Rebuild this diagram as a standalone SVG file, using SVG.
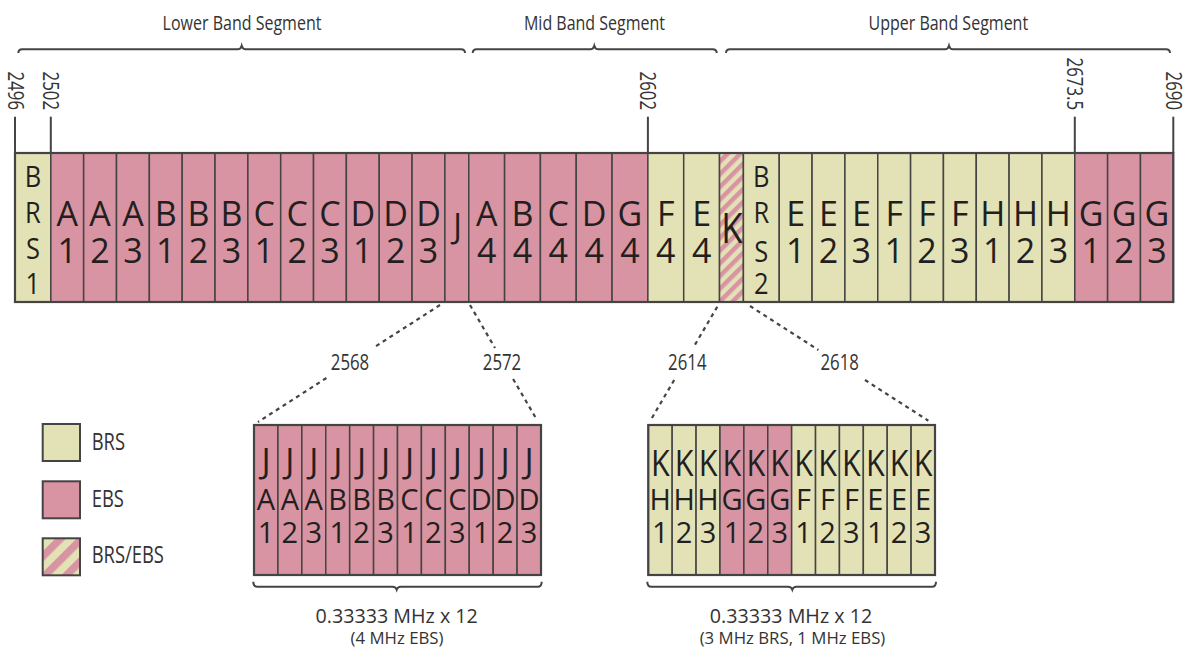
<svg xmlns="http://www.w3.org/2000/svg" width="1187" height="656" viewBox="0 0 1187 656">
  <defs>
    <pattern id="stripes" width="9" height="9" patternUnits="userSpaceOnUse" patternTransform="rotate(45)">
      <rect width="9" height="9" fill="#E3E2B6"/>
      <rect width="4.5" height="9" fill="#D894A2"/>
    </pattern>
    <pattern id="stripesLg" width="15" height="15" patternUnits="userSpaceOnUse" patternTransform="rotate(45)">
      <rect width="15" height="15" fill="#E3E2B6"/>
      <rect width="7.5" height="15" fill="#D894A2"/>
    </pattern>
  </defs>
  <style>
    .brs { fill: #E3E2B6; stroke: #444; stroke-width: 1.5; }
    .ebs { fill: #D894A2; stroke: #444; stroke-width: 1.5; }
    .mix { fill: url(#stripes); stroke: #444; stroke-width: 1.5; }
    .frame { fill: none; stroke: #444; stroke-width: 2.2; }
    .tick { stroke: #444; stroke-width: 2; fill: none; }
    .brace { stroke: #444; stroke-width: 2; fill: none; }
    .dots { stroke: #444; stroke-width: 2.2; fill: none; stroke-dasharray: 4 4; }
    text { font-family: "Open Sans", "Noto Sans", "Liberation Sans", sans-serif; fill: #231f20; }
    .big { font-size: 34px; text-anchor: middle; }
    .stack { font-size: 30px; text-anchor: middle; }
    .sub { font-size: 29px; text-anchor: middle; }
    .subj { font-size: 34px; text-anchor: middle; }
    .subk { font-size: 36px; text-anchor: middle; }
    .lbl { font-size: 20px; text-anchor: middle; fill: #333; }
    .freq { font-size: 21px; fill: #333; }
    .leg { font-size: 23px; fill: #333; }
    .note { font-size: 19.7px; text-anchor: middle; fill: #333; }
    .note2 { font-size: 16.8px; text-anchor: middle; fill: #333; }
  </style>
  <rect width="1187" height="656" fill="#fff"/>

  <!-- segment braces and titles -->
  <g id="segments">
    <path class="brace" d="M18.3,53 Q18.3,49.3 22.3,49.3 L237.7,49.3 Q240.7,49.3 241.7,45.7 Q242.7,49.3 245.7,49.3 L461,49.3 Q465,49.3 465,53"/>
    <path class="brace" d="M472.7,53 Q472.7,49.3 476.7,49.3 L590.3,49.3 Q593.3,49.3 594.3,45.7 Q595.3,49.3 598.3,49.3 L712.7,49.3 Q716.7,49.3 716.7,53"/>
    <path class="brace" d="M726,53 Q726,49.3 730,49.3 L945,49.3 Q948,49.3 949,45.7 Q950,49.3 953,49.3 L1166,49.3 Q1170,49.3 1170,53"/>
    <text class="lbl" transform="translate(242,30) scale(0.8,1)">Lower Band Segment</text>
    <text class="lbl" transform="translate(594.5,30) scale(0.8,1)">Mid Band Segment</text>
    <text class="lbl" transform="translate(948.3,30) scale(0.8,1)">Upper Band Segment</text>
  </g>

  <!-- frequency marks above the band -->
  <g id="freq-marks">
    <line class="tick" x1="15" y1="116.7" x2="15" y2="153"/>
    <line class="tick" x1="50.8" y1="116.7" x2="50.8" y2="153"/>
    <line class="tick" x1="647.9" y1="116.7" x2="647.9" y2="153"/>
    <line class="tick" x1="1074.8" y1="116.7" x2="1074.8" y2="153"/>
    <line class="tick" x1="1173.3" y1="116.7" x2="1173.3" y2="153"/>
    <text class="freq" text-anchor="end" transform="translate(7.5,110) rotate(90) scale(0.8,1)">2496</text>
    <text class="freq" text-anchor="end" transform="translate(43.3,110) rotate(90) scale(0.8,1)">2502</text>
    <text class="freq" text-anchor="end" transform="translate(640.4,110) rotate(90) scale(0.8,1)">2602</text>
    <text class="freq" text-anchor="end" transform="translate(1067.3,110) rotate(90) scale(0.8,1)">2673.5</text>
    <text class="freq" text-anchor="end" transform="translate(1165.8,110) rotate(90) scale(0.8,1)">2690</text>
  </g>

  <!-- main band channels -->
  <g id="band">
    <g id="ch-BRS1"><rect class="brs" x="15" y="153" width="35.82" height="149"/>
      <text class="stack" transform="translate(32.9,186.7) scale(0.85,1)">B</text>
      <text class="stack" transform="translate(32.9,222.7) scale(0.85,1)">R</text>
      <text class="stack" transform="translate(32.9,258.7) scale(0.85,1)">S</text>
      <text class="stack" transform="translate(32.9,293.5) scale(0.85,1)">1</text></g>
    <g id="ch-A1"><rect class="ebs" x="50.82" y="153" width="32.84" height="149"/><text class="big" x="67.24" y="226">A</text><text class="big" x="67.24" y="262.7">1</text></g>
    <g id="ch-A2"><rect class="ebs" x="83.66" y="153" width="32.84" height="149"/><text class="big" x="100.08" y="226">A</text><text class="big" x="100.08" y="262.7">2</text></g>
    <g id="ch-A3"><rect class="ebs" x="116.5" y="153" width="32.84" height="149"/><text class="big" x="132.92" y="226">A</text><text class="big" x="132.92" y="262.7">3</text></g>
    <g id="ch-B1"><rect class="ebs" x="149.34" y="153" width="32.84" height="149"/><text class="big" x="165.76" y="226">B</text><text class="big" x="165.76" y="262.7">1</text></g>
    <g id="ch-B2"><rect class="ebs" x="182.18" y="153" width="32.84" height="149"/><text class="big" x="198.6" y="226">B</text><text class="big" x="198.6" y="262.7">2</text></g>
    <g id="ch-B3"><rect class="ebs" x="215.02" y="153" width="32.84" height="149"/><text class="big" x="231.44" y="226">B</text><text class="big" x="231.44" y="262.7">3</text></g>
    <g id="ch-C1"><rect class="ebs" x="247.86" y="153" width="32.84" height="149"/><text class="big" x="264.28" y="226">C</text><text class="big" x="264.28" y="262.7">1</text></g>
    <g id="ch-C2"><rect class="ebs" x="280.69" y="153" width="32.84" height="149"/><text class="big" x="297.11" y="226">C</text><text class="big" x="297.11" y="262.7">2</text></g>
    <g id="ch-C3"><rect class="ebs" x="313.53" y="153" width="32.84" height="149"/><text class="big" x="329.95" y="226">C</text><text class="big" x="329.95" y="262.7">3</text></g>
    <g id="ch-D1"><rect class="ebs" x="346.37" y="153" width="32.84" height="149"/><text class="big" x="362.79" y="226">D</text><text class="big" x="362.79" y="262.7">1</text></g>
    <g id="ch-D2"><rect class="ebs" x="379.21" y="153" width="32.84" height="149"/><text class="big" x="395.63" y="226">D</text><text class="big" x="395.63" y="262.7">2</text></g>
    <g id="ch-D3"><rect class="ebs" x="412.05" y="153" width="32.84" height="149"/><text class="big" x="428.47" y="226">D</text><text class="big" x="428.47" y="262.7">3</text></g>
    <g id="ch-J"><rect class="ebs" x="444.88" y="153" width="23.89" height="149"/><text class="big" transform="translate(457.5,237.5) scale(0.95,1)">J</text></g>
    <g id="ch-A4"><rect class="ebs" x="468.77" y="153" width="35.82" height="149"/><text class="big" x="486.68" y="226">A</text><text class="big" x="486.68" y="262.7">4</text></g>
    <g id="ch-B4"><rect class="ebs" x="504.59" y="153" width="35.82" height="149"/><text class="big" x="522.5" y="226">B</text><text class="big" x="522.5" y="262.7">4</text></g>
    <g id="ch-C4"><rect class="ebs" x="540.41" y="153" width="35.83" height="149"/><text class="big" x="558.33" y="226">C</text><text class="big" x="558.33" y="262.7">4</text></g>
    <g id="ch-D4"><rect class="ebs" x="576.24" y="153" width="35.82" height="149"/><text class="big" x="594.15" y="226">D</text><text class="big" x="594.15" y="262.7">4</text></g>
    <g id="ch-G4"><rect class="ebs" x="612.06" y="153" width="35.82" height="149"/><text class="big" x="629.97" y="226">G</text><text class="big" x="629.97" y="262.7">4</text></g>
    <g id="ch-F4"><rect class="brs" x="647.88" y="153" width="35.83" height="149"/><text class="big" x="665.8" y="226">F</text><text class="big" x="665.8" y="262.7">4</text></g>
    <g id="ch-E4"><rect class="brs" x="683.71" y="153" width="35.82" height="149"/><text class="big" x="701.62" y="226">E</text><text class="big" x="701.62" y="262.7">4</text></g>
    <g id="ch-K"><rect class="mix" x="719.53" y="153" width="23.88" height="149"/><text class="big" style="font-size:42px" transform="translate(731.8,243.3) scale(0.83,1)">K</text></g>
    <g id="ch-BRS2"><rect class="brs" x="743.41" y="153" width="35.83" height="149"/>
      <text class="stack" transform="translate(761.3,186.7) scale(0.85,1)">B</text>
      <text class="stack" transform="translate(761.3,223) scale(0.85,1)">R</text>
      <text class="stack" transform="translate(761.3,262) scale(0.85,1)">S</text>
      <text class="stack" transform="translate(761.3,293.5) scale(0.85,1)">2</text></g>
    <g id="ch-E1"><rect class="brs" x="779.24" y="153" width="32.83" height="149"/><text class="big" x="795.66" y="226">E</text><text class="big" x="795.66" y="262.7">1</text></g>
    <g id="ch-E2"><rect class="brs" x="812.07" y="153" width="32.84" height="149"/><text class="big" x="828.49" y="226">E</text><text class="big" x="828.49" y="262.7">2</text></g>
    <g id="ch-E3"><rect class="brs" x="844.91" y="153" width="32.84" height="149"/><text class="big" x="861.33" y="226">E</text><text class="big" x="861.33" y="262.7">3</text></g>
    <g id="ch-F1"><rect class="brs" x="877.75" y="153" width="32.84" height="149"/><text class="big" x="894.17" y="226">F</text><text class="big" x="894.17" y="262.7">1</text></g>
    <g id="ch-F2"><rect class="brs" x="910.59" y="153" width="32.84" height="149"/><text class="big" x="927.01" y="226">F</text><text class="big" x="927.01" y="262.7">2</text></g>
    <g id="ch-F3"><rect class="brs" x="943.43" y="153" width="32.84" height="149"/><text class="big" x="959.85" y="226">F</text><text class="big" x="959.85" y="262.7">3</text></g>
    <g id="ch-H1"><rect class="brs" x="976.27" y="153" width="32.83" height="149"/><text class="big" x="992.69" y="226">H</text><text class="big" x="992.69" y="262.7">1</text></g>
    <g id="ch-H2"><rect class="brs" x="1009.1" y="153" width="32.84" height="149"/><text class="big" x="1025.52" y="226">H</text><text class="big" x="1025.52" y="262.7">2</text></g>
    <g id="ch-H3"><rect class="brs" x="1041.94" y="153" width="32.84" height="149"/><text class="big" x="1058.36" y="226">H</text><text class="big" x="1058.36" y="262.7">3</text></g>
    <g id="ch-G1"><rect class="ebs" x="1074.78" y="153" width="32.84" height="149"/><text class="big" x="1091.2" y="226">G</text><text class="big" x="1091.2" y="262.7">1</text></g>
    <g id="ch-G2"><rect class="ebs" x="1107.62" y="153" width="32.84" height="149"/><text class="big" x="1124.04" y="226">G</text><text class="big" x="1124.04" y="262.7">2</text></g>
    <g id="ch-G3"><rect class="ebs" x="1140.46" y="153" width="32.84" height="149"/><text class="big" x="1156.88" y="226">G</text><text class="big" x="1156.88" y="262.7">3</text></g>
    <rect class="frame" x="15" y="153" width="1158.3" height="149"/>
  </g>

  <!-- dotted expansion lines with their edge frequencies -->
  <g id="connectors">
    <path class="dots" d="M440,305 L373.1,348 M326.4,378 L258,422"/>
    <path class="dots" d="M470,305 L495,348 M513.1,379 L537,420"/>
    <path class="dots" d="M717.3,306.7 L693.8,346.7 M674.2,380 L651.7,418.3"/>
    <path class="dots" d="M750,306 L818.4,350 M865,380 L928.3,420.7"/>
    <text class="freq" text-anchor="middle" transform="translate(350,370) scale(0.8,1)">2568</text>
    <text class="freq" text-anchor="middle" transform="translate(502,370) scale(0.8,1)">2572</text>
    <text class="freq" text-anchor="middle" transform="translate(687.3,370) scale(0.8,1)">2614</text>
    <text class="freq" text-anchor="middle" transform="translate(839.7,370) scale(0.8,1)">2618</text>
  </g>

  <!-- J channel split into 12 sub-channels -->
  <g id="j-split">
    <g id="j-A1"><rect class="ebs" x="254" y="425" width="23.92" height="150"/><text class="subj" x="265.96" y="473">J</text><text class="sub" x="265.96" y="510">A</text><text class="sub" x="265.96" y="543">1</text></g>
    <g id="j-A2"><rect class="ebs" x="277.92" y="425" width="23.91" height="150"/><text class="subj" x="289.88" y="473">J</text><text class="sub" x="289.88" y="510">A</text><text class="sub" x="289.88" y="543">2</text></g>
    <g id="j-A3"><rect class="ebs" x="301.83" y="425" width="23.92" height="150"/><text class="subj" x="313.79" y="473">J</text><text class="sub" x="313.79" y="510">A</text><text class="sub" x="313.79" y="543">3</text></g>
    <g id="j-B1"><rect class="ebs" x="325.75" y="425" width="23.92" height="150"/><text class="subj" x="337.71" y="473">J</text><text class="sub" x="337.71" y="510">B</text><text class="sub" x="337.71" y="543">1</text></g>
    <g id="j-B2"><rect class="ebs" x="349.67" y="425" width="23.91" height="150"/><text class="subj" x="361.63" y="473">J</text><text class="sub" x="361.63" y="510">B</text><text class="sub" x="361.63" y="543">2</text></g>
    <g id="j-B3"><rect class="ebs" x="373.58" y="425" width="23.92" height="150"/><text class="subj" x="385.54" y="473">J</text><text class="sub" x="385.54" y="510">B</text><text class="sub" x="385.54" y="543">3</text></g>
    <g id="j-C1"><rect class="ebs" x="397.5" y="425" width="23.92" height="150"/><text class="subj" x="409.46" y="473">J</text><text class="sub" x="409.46" y="510">C</text><text class="sub" x="409.46" y="543">1</text></g>
    <g id="j-C2"><rect class="ebs" x="421.42" y="425" width="23.91" height="150"/><text class="subj" x="433.38" y="473">J</text><text class="sub" x="433.38" y="510">C</text><text class="sub" x="433.38" y="543">2</text></g>
    <g id="j-C3"><rect class="ebs" x="445.33" y="425" width="23.92" height="150"/><text class="subj" x="457.29" y="473">J</text><text class="sub" x="457.29" y="510">C</text><text class="sub" x="457.29" y="543">3</text></g>
    <g id="j-D1"><rect class="ebs" x="469.25" y="425" width="23.92" height="150"/><text class="subj" x="481.21" y="473">J</text><text class="sub" x="481.21" y="510">D</text><text class="sub" x="481.21" y="543">1</text></g>
    <g id="j-D2"><rect class="ebs" x="493.17" y="425" width="23.91" height="150"/><text class="subj" x="505.13" y="473">J</text><text class="sub" x="505.13" y="510">D</text><text class="sub" x="505.13" y="543">2</text></g>
    <g id="j-D3"><rect class="ebs" x="517.08" y="425" width="23.92" height="150"/><text class="subj" x="529.04" y="473">J</text><text class="sub" x="529.04" y="510">D</text><text class="sub" x="529.04" y="543">3</text></g>
    <rect class="frame" x="254" y="425" width="287" height="150"/>
    <path class="brace" d="M253.3,581.7 Q253.3,586.7 257.3,586.7 L392.7,586.7 Q395.7,586.7 396.7,589.7 Q397.7,586.7 400.7,586.7 L537.7,586.7 Q541.7,586.7 541.7,581.7"/>
    <text class="note" x="396.7" y="623.3">0.33333 MHz x 12</text>
    <text class="note2" x="397" y="643.5">(4 MHz EBS)</text>
  </g>

  <!-- K channel split into 12 sub-channels -->
  <g id="k-split">
    <g id="k-H1"><rect class="brs" x="648.3" y="425" width="23.89" height="150"/><text class="subk" transform="translate(660.25,476) scale(0.85,1)">K</text><text class="sub" x="660.25" y="510">H</text><text class="sub" x="660.25" y="543">1</text></g>
    <g id="k-H2"><rect class="brs" x="672.19" y="425" width="23.89" height="150"/><text class="subk" transform="translate(684.14,476) scale(0.85,1)">K</text><text class="sub" x="684.14" y="510">H</text><text class="sub" x="684.14" y="543">2</text></g>
    <g id="k-H3"><rect class="brs" x="696.08" y="425" width="23.9" height="150"/><text class="subk" transform="translate(708.03,476) scale(0.85,1)">K</text><text class="sub" x="708.03" y="510">H</text><text class="sub" x="708.03" y="543">3</text></g>
    <g id="k-G1"><rect class="ebs" x="719.98" y="425" width="23.89" height="150"/><text class="subk" transform="translate(731.93,476) scale(0.85,1)">K</text><text class="sub" x="731.93" y="510">G</text><text class="sub" x="731.93" y="543">1</text></g>
    <g id="k-G2"><rect class="ebs" x="743.87" y="425" width="23.89" height="150"/><text class="subk" transform="translate(755.82,476) scale(0.85,1)">K</text><text class="sub" x="755.82" y="510">G</text><text class="sub" x="755.82" y="543">2</text></g>
    <g id="k-G3"><rect class="ebs" x="767.76" y="425" width="23.89" height="150"/><text class="subk" transform="translate(779.71,476) scale(0.85,1)">K</text><text class="sub" x="779.71" y="510">G</text><text class="sub" x="779.71" y="543">3</text></g>
    <g id="k-F1"><rect class="brs" x="791.65" y="425" width="23.89" height="150"/><text class="subk" transform="translate(803.6,476) scale(0.85,1)">K</text><text class="sub" x="803.6" y="510">F</text><text class="sub" x="803.6" y="543">1</text></g>
    <g id="k-F2"><rect class="brs" x="815.54" y="425" width="23.9" height="150"/><text class="subk" transform="translate(827.49,476) scale(0.85,1)">K</text><text class="sub" x="827.49" y="510">F</text><text class="sub" x="827.49" y="543">2</text></g>
    <g id="k-F3"><rect class="brs" x="839.44" y="425" width="23.89" height="150"/><text class="subk" transform="translate(851.39,476) scale(0.85,1)">K</text><text class="sub" x="851.39" y="510">F</text><text class="sub" x="851.39" y="543">3</text></g>
    <g id="k-E1"><rect class="brs" x="863.33" y="425" width="23.89" height="150"/><text class="subk" transform="translate(875.28,476) scale(0.85,1)">K</text><text class="sub" x="875.28" y="510">E</text><text class="sub" x="875.28" y="543">1</text></g>
    <g id="k-E2"><rect class="brs" x="887.22" y="425" width="23.89" height="150"/><text class="subk" transform="translate(899.17,476) scale(0.85,1)">K</text><text class="sub" x="899.17" y="510">E</text><text class="sub" x="899.17" y="543">2</text></g>
    <g id="k-E3"><rect class="brs" x="911.11" y="425" width="23.89" height="150"/><text class="subk" transform="translate(923.06,476) scale(0.85,1)">K</text><text class="sub" x="923.06" y="510">E</text><text class="sub" x="923.06" y="543">3</text></g>
    <rect class="frame" x="648.3" y="425" width="286.7" height="150"/>
    <path class="brace" d="M647.3,581.7 Q647.3,586.7 651.3,586.7 L788.3,586.7 Q791.3,586.7 792.3,589.7 Q793.3,586.7 796.3,586.7 L932,586.7 Q936,586.7 936,581.7"/>
    <text class="note" x="791" y="623.3">0.33333 MHz x 12</text>
    <text class="note2" x="792.5" y="643.5">(3 MHz BRS, 1 MHz EBS)</text>
  </g>

  <!-- legend -->
  <g id="legend">
    <g id="legend-brs"><rect class="brs" style="stroke-width:2" x="42.7" y="424" width="37.3" height="37"/><text class="leg" transform="translate(91.7,450) scale(0.8,1)">BRS</text></g>
    <g id="legend-ebs"><rect class="ebs" style="stroke-width:2" x="42.7" y="481.3" width="37.3" height="37"/><text class="leg" transform="translate(91.7,506.7) scale(0.8,1)">EBS</text></g>
    <g id="legend-mix"><rect style="fill:url(#stripesLg);stroke:#444;stroke-width:2" x="42.7" y="538.3" width="37.3" height="37"/><text class="leg" transform="translate(91.7,563.3) scale(0.8,1)">BRS/EBS</text></g>
  </g>
</svg>
